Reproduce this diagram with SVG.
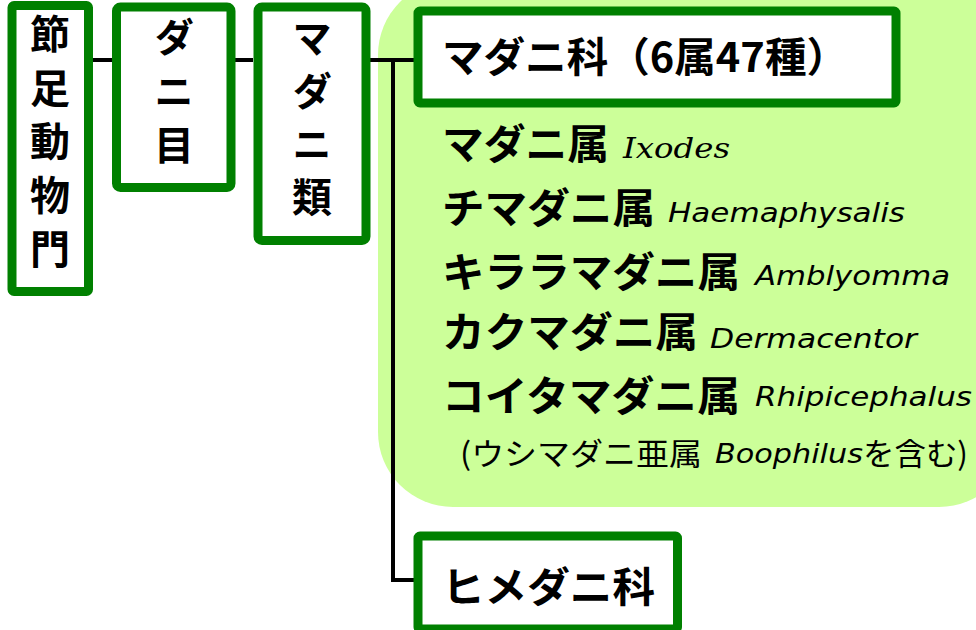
<svg xmlns="http://www.w3.org/2000/svg" width="976" height="630" viewBox="0 0 976 630">
<defs>
<style>
.box{fill:#ffffff;stroke:#008000;stroke-width:9;}
.conn{stroke:#000000;stroke-width:4;fill:none;}
.v{font-family:"Noto Sans CJK JP","Noto Sans",sans-serif;font-size:40px;font-weight:700;fill:#000;writing-mode:vertical-rl;}
.h{font-family:"Noto Sans CJK JP","Noto Sans",sans-serif;font-size:41px;font-weight:700;fill:#000;}
.s{font-family:"Noto Sans CJK JP","Noto Sans",sans-serif;font-size:31px;font-weight:400;fill:#000;}
.lat{font-family:"DejaVu Sans",Verdana,sans-serif;font-size:27px;font-style:italic;fill:#000;}
.ser{font-family:"DejaVu Serif",serif;font-size:27px;font-style:italic;fill:#000;}
</style>
</defs>
<rect id="bg" x="378" y="-20" width="636" height="527" rx="75" ry="75" fill="#ccff99"/>
<g id="connectors">
<line class="conn" x1="92" y1="60" x2="113" y2="60"/>
<line class="conn" x1="235" y1="60" x2="253" y2="60"/>
<line class="conn" x1="370" y1="60" x2="414" y2="60"/>
<polyline class="conn" points="393,60 393,580 414,580"/>
</g>
<g id="n1">
<rect class="box" x="12" y="5.5" width="76.5" height="286" rx="2"/>
<text class="v" x="50" y="14" letter-spacing="13.6">節足動物門</text>
</g>
<g id="n2">
<rect class="box" x="116.5" y="7" width="114.5" height="180.5" rx="4"/>
<text class="v" x="174" y="17" letter-spacing="14">ダニ目</text>
</g>
<g id="n3">
<rect class="box" x="258" y="7" width="108" height="233.5" rx="4"/>
<text class="v" x="312" y="18" letter-spacing="13">マダニ類</text>
</g>
<g id="n4">
<rect class="box" x="418" y="11" width="478" height="92" rx="2"/>
<text class="h" x="442" y="72" textLength="406" lengthAdjust="spacingAndGlyphs">マダニ科（6属47種）</text>
</g>
<g id="genera">
<text class="h" x="442" y="159" textLength="167" lengthAdjust="spacingAndGlyphs">マダニ属</text>
<text class="ser" x="623" y="158" textLength="107" lengthAdjust="spacingAndGlyphs">Ixodes</text>
<text class="h" x="442" y="223" textLength="213" lengthAdjust="spacingAndGlyphs">チマダニ属</text>
<text class="lat" x="668" y="222" textLength="237" lengthAdjust="spacingAndGlyphs">Haemaphysalis</text>
<text class="h" x="442" y="287" textLength="298" lengthAdjust="spacingAndGlyphs">キララマダニ属</text>
<text class="lat" x="755" y="285" textLength="195" lengthAdjust="spacingAndGlyphs">Amblyomma</text>
<text class="h" x="442" y="347" textLength="256" lengthAdjust="spacingAndGlyphs">カクマダニ属</text>
<text class="lat" x="710" y="348" textLength="207" lengthAdjust="spacingAndGlyphs">Dermacentor</text>
<text class="h" x="442" y="411" textLength="298" lengthAdjust="spacingAndGlyphs">コイタマダニ属</text>
<text class="lat" x="755" y="406" textLength="217" lengthAdjust="spacingAndGlyphs">Rhipicephalus</text>
<text class="s" x="460" y="465" textLength="242" lengthAdjust="spacingAndGlyphs">(ウシマダニ亜属</text>
<text class="lat" x="715" y="463" textLength="148" lengthAdjust="spacingAndGlyphs">Boophilus</text>
<text class="s" x="863" y="465" textLength="105" lengthAdjust="spacingAndGlyphs">を含む)</text>
</g>
<g id="n5">
<rect class="box" x="418" y="536" width="259.5" height="93" rx="2"/>
<text class="h" x="442" y="602" textLength="213" lengthAdjust="spacingAndGlyphs">ヒメダニ科</text>
</g>
</svg>
